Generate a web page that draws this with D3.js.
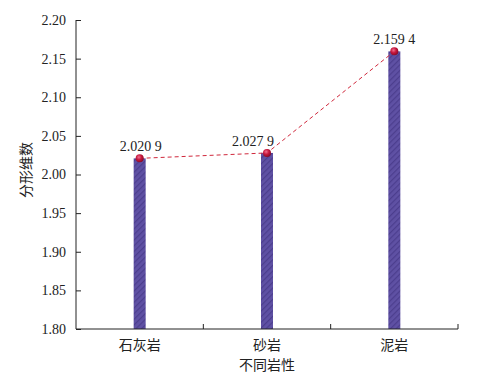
<!DOCTYPE html>
<html><head><meta charset="utf-8">
<script src="https://cdn.jsdelivr.net/npm/d3@7"></script>
<style>body{margin:0;background:#fff}svg{display:block}</style>
</head><body>
<svg id="c" width="480" height="375"></svg>
<script>
const categories = ["石灰岩", "砂岩", "泥岩"];
const values = [2.0209, 2.0279, 2.1594];
const valueLabels = ["2.020 9", "2.027 9", "2.159 4"];
const labelShift = [1, -14, 0];
const yTicks = [1.80, 1.85, 1.90, 1.95, 2.00, 2.05, 2.10, 2.15, 2.20];

const font = "'Liberation Serif', 'Times New Roman', Times, 'DejaVu Serif', serif, 'Noto Sans CJK SC'";
const svg = d3.select("#c");
const m = {l: 76, r: 22, t: 20, b: 46};
const W = 480, H = 375;
const x = d3.scaleBand().domain(categories).range([m.l, W - m.r]);
const y = d3.scaleLinear().domain([1.8, 2.2]).range([H - m.b, m.t]);

const defs = svg.append("defs");
const pat = defs.append("pattern").attr("id", "hatch").attr("patternUnits", "userSpaceOnUse")
  .attr("width", 4).attr("height", 4).attr("patternTransform", "rotate(45)");
pat.append("rect").attr("width", 4).attr("height", 4).attr("fill", "#5f51a4");
pat.append("rect").attr("width", 1.2).attr("height", 4).attr("fill", "#4c3e8e");
const grad = defs.append("radialGradient").attr("id", "ball").attr("cx", "40%").attr("cy", "35%").attr("r", "65%");
grad.append("stop").attr("offset", "0%").attr("stop-color", "#f07090");
grad.append("stop").attr("offset", "50%").attr("stop-color", "#c8183e");
grad.append("stop").attr("offset", "100%").attr("stop-color", "#8a0a28");

const bw = 12;
svg.selectAll("rect.bar").data(values).join("rect").attr("class", "bar")
  .attr("x", (d, i) => x(categories[i]) + x.bandwidth() / 2 - bw / 2)
  .attr("y", d => y(d)).attr("width", bw).attr("height", d => y(1.8) - y(d))
  .attr("fill", "url(#hatch)");

// axes
const yAxis = d3.axisLeft(y).tickValues(yTicks).tickFormat(d3.format(".2f")).tickSize(-5).tickPadding(10);
const gy = svg.append("g").attr("transform", `translate(${m.l},0)`).call(yAxis);
gy.attr("font-family", null).attr("font-size", null);
gy.select(".domain").attr("stroke", "#222").attr("d", `M0,${m.t}H0V${H - m.b}`);
gy.selectAll(".tick line").attr("stroke", "#222");
gy.selectAll("text").style("font-family", font).style("font-size", "14px").attr("fill", "#222");

const gx = svg.append("g").attr("transform", `translate(0,${H - m.b})`);
gx.append("line").attr("x1", m.l).attr("x2", W - m.r).attr("stroke", "#222");
gx.selectAll("line.t").data(categories).join("line").attr("class", "t")
  .attr("x1", d => x(d) + x.bandwidth()).attr("x2", d => x(d) + x.bandwidth())
  .attr("y1", 0).attr("y2", -5).attr("stroke", "#222");
gx.selectAll("text").data(categories).join("text")
  .attr("x", d => x(d) + x.bandwidth() / 2).attr("y", 21)
  .attr("text-anchor", "middle").style("font-family", font).style("font-size", "14px").attr("fill", "#222")
  .text(d => d);

svg.append("text").attr("x", (m.l + W - m.r) / 2).attr("y", 370).attr("text-anchor", "middle")
  .style("font-family", font).style("font-size", "14px").attr("fill", "#222").text("不同岩性");
svg.append("text").attr("transform", `translate(31,170) rotate(-90)`).attr("text-anchor", "middle")
  .style("font-family", font).style("font-size", "14px").attr("fill", "#222").text("分形维数");

// line
const line = d3.line().x((d, i) => x(categories[i]) + x.bandwidth() / 2).y(d => y(d));
svg.append("path").attr("d", line(values)).attr("fill", "none").attr("stroke", "#d0283c")
  .attr("stroke-width", 1).attr("stroke-dasharray", "4,3");
svg.selectAll("circle").data(values).join("circle")
  .attr("cx", (d, i) => x(categories[i]) + x.bandwidth() / 2).attr("cy", d => y(d))
  .attr("r", 4).attr("fill", "url(#ball)");
svg.selectAll("text.v").data(values).join("text").attr("class", "v")
  .attr("x", (d, i) => x(categories[i]) + x.bandwidth() / 2 + labelShift[i]).attr("y", d => y(d) - 7)
  .attr("text-anchor", "middle").style("font-family", font).style("font-size", "14px").attr("fill", "#222")
  .text((d, i) => valueLabels[i]);
</script>
</body></html>
